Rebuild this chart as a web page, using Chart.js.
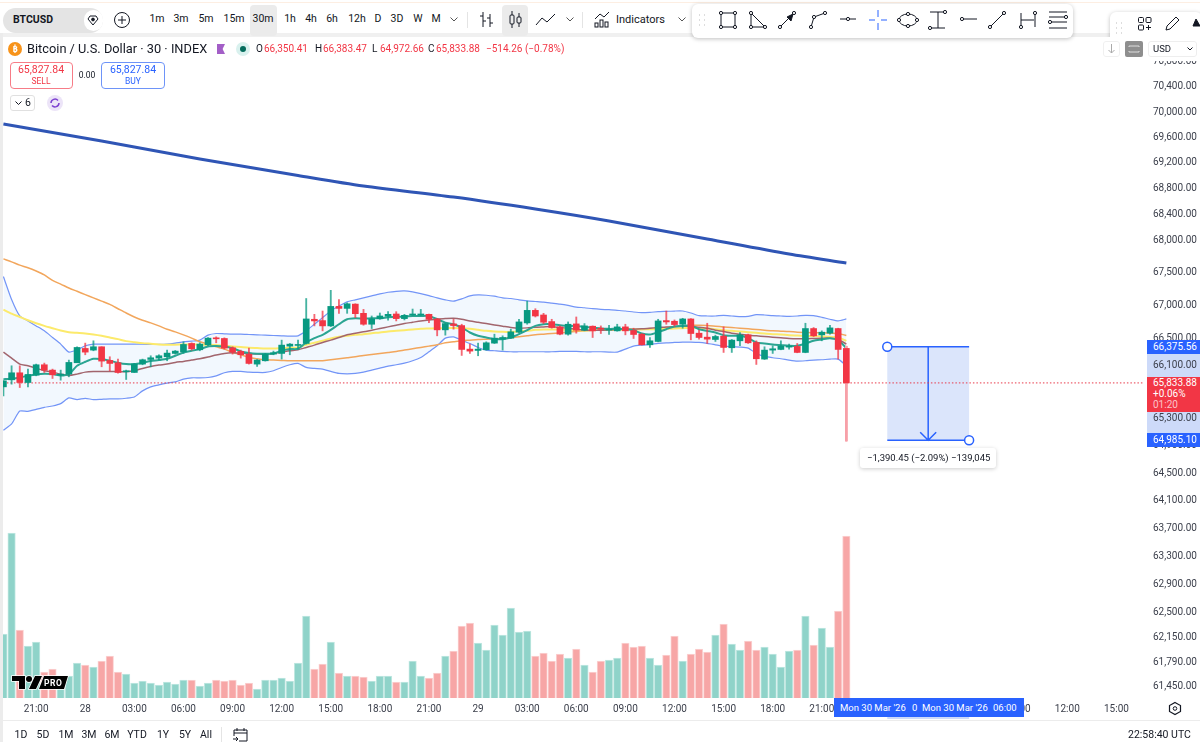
<!DOCTYPE html>
<html>
<head>
<meta charset="utf-8">
<script src="https://cdn.jsdelivr.net/npm/chart.js@4/dist/chart.umd.js"></script>
<style>
  html, body { margin: 0; padding: 0; background: #fff; }
  body { width: 1200px; height: 742px; position: relative; overflow: hidden; font-family: Roboto, 'Noto Sans', sans-serif; color: #131722; }
  canvas { position: absolute; left: 0; top: 0; }
  .ui { position: absolute; white-space: nowrap; line-height: 1; }
  .box { position: absolute; box-sizing: border-box; }
  svg { position: absolute; overflow: visible; }
</style>
</head>
<body>
<canvas id="chart" width="1200" height="742"></canvas>
<div id="ui"></div>
<script>
// ---- Data: 30 min bars, first one is 27 Mar 19:00 ----
const opens = [65775,65880,65985,65840,65950,66105,66025,65950,65965,66135,66350,66325,66375,66170,66135,66000,65990,66115,66185,66205,66225,66275,66300,66425,66330,66405,66510,66500,66360,66305,66265,66115,66165,66265,66275,66385,66395,66425,66790,66770,66690,66985,66955,67020,66880,66715,66800,66835,66870,66800,66855,66855,66865,66795,66630,66720,66695,66340,66320,66330,66430,66490,66505,66595,66735,66925,66855,66755,66675,66565,66720,66625,66685,66650,66625,66615,66675,66620,66565,66405,66455,66770,66760,66715,66795,66580,66520,66485,66535,66360,66465,66555,66440,66190,66325,66335,66370,66380,66290,66650,66555,66580,66650,66350.41];
const highs = [65865,66090,66090,66040,66115,66130,66040,66025,66175,66375,66430,66465,66375,66225,66190,66025,66125,66190,66240,66255,66325,66320,66450,66435,66435,66515,66525,66510,66375,66325,66355,66185,66275,66310,66475,66425,66475,67105,66865,66915,67230,67090,67040,67025,66940,66840,66885,66905,66905,66865,66945,66940,66870,66805,66735,66790,66715,66415,66430,66450,66565,66540,66640,66790,67065,66950,66880,66790,66690,66750,66825,66725,66690,66690,66700,66715,66715,66655,66575,66515,66790,66915,66780,66805,66800,66625,66730,66550,66675,66485,66590,66565,66465,66375,66390,66465,66415,66425,66730,66665,66615,66700,66655,66383.47];
const lows = [65640,65815,65765,65775,65940,65990,65900,65875,65925,66135,66255,66315,66075,66015,65980,65885,65990,66105,66075,66175,66165,66265,66275,66325,66315,66390,66435,66340,66265,66205,66115,66080,66160,66255,66190,66255,66340,66415,66690,66615,66680,66880,66880,66815,66700,66650,66790,66775,66765,66780,66850,66850,66740,66540,66550,66640,66245,66275,66240,66325,66425,66325,66500,66585,66715,66825,66725,66655,66555,66550,66580,66615,66515,66575,66560,66610,66555,66500,66400,66365,66450,66715,66685,66655,66480,66490,66425,66455,66290,66290,66390,66425,66110,66185,66275,66330,66340,66285,66285,66530,66465,66565,66190,64972.66];
const closes = [65865,65985,65840,65960,66105,66025,65955,65965,66140,66365,66295,66375,66160,66125,65990,66015,66115,66180,66210,66240,66280,66310,66410,66345,66415,66505,66495,66355,66295,66255,66125,66175,66265,66285,66400,66415,66405,66795,66765,66690,66985,66955,67025,66875,66715,66795,66840,66865,66800,66850,66865,66865,66790,66630,66725,66695,66335,66310,66340,66435,66505,66515,66600,66750,66925,66840,66745,66665,66565,66715,66625,66690,66615,66640,66635,66675,66615,66560,66405,66465,66765,66750,66710,66795,66575,66515,66490,66530,66365,66475,66555,66435,66195,66325,66345,66385,66385,66290,66650,66540,66595,66660,66335,65833.88];
const volumes = [64,165,68,52,56,26,29,14,22,35,33,31,37,42,26,24,15,17,15,13,16,14,18,18,12,15,18,17,18,13,15,9,18,18,20,17,35,82,29,34,56,25,22,22,21,17,22,22,16,16,37,22,20,25,42,47,72,75,55,48,73,63,90,66,67,42,45,37,44,40,49,33,26,37,38,40,55,51,52,40,33,43,62,37,44,49,46,63,74,54,48,57,48,51,44,31,47,48,82,53,70,51,87,162];

const bbUpper = [67440,67090,66840,66765,66690,66615,66515,66415,66295,66330,66390,66415,66415,66415,66415,66415,66415,66415,66410,66410,66415,66430,66450,66460,66475,66550,66575,66570,66565,66565,66560,66555,66550,66545,66540,66535,66540,66615,66715,66815,66915,66990,67055,67085,67115,67145,67175,67200,67215,67220,67205,67180,67150,67115,67085,67065,67100,67145,67160,67155,67140,67115,67105,67085,67070,67060,67050,67035,67020,67000,66975,66965,66950,66940,66935,66925,66915,66900,66890,66895,66905,66910,66915,66915,66885,66845,66840,66840,66850,66840,66830,66835,66860,66855,66845,66840,66835,66840,66850,66845,66820,66790,66765,66795];
const bbLower = [65130,65225,65415,65410,65440,65470,65490,65525,65610,65585,65605,65585,65590,65595,65595,65605,65625,65715,65775,65805,65830,65850,65890,65910,65910,65915,65940,65985,66005,66005,65995,65990,65990,66015,66065,66105,66125,66065,66050,66040,66005,65975,65970,65975,65995,66025,66055,66085,66105,66130,66165,66215,66300,66390,66505,66525,66475,66425,66365,66325,66315,66305,66300,66300,66300,66300,66300,66300,66305,66305,66305,66300,66300,66300,66295,66295,66340,66385,66400,66410,66425,66435,66440,66445,66445,66440,66425,66405,66385,66375,66370,66355,66275,66230,66210,66195,66175,66160,66165,66175,66180,66190,66190,66090];
const fastMa = [65890,65895,65915,65940,65960,65970,65965,65945,65965,66090,66150,66195,66190,66165,66135,66115,66115,66135,66160,66175,66195,66240,66290,66315,66340,66380,66385,66380,66355,66305,66280,66270,66270,66275,66315,66340,66345,66440,66505,66555,66630,66715,66790,66805,66800,66805,66805,66820,66830,66830,66840,66840,66840,66790,66740,66715,66665,66590,66540,66515,66490,66490,66515,66565,66625,66690,66715,66715,66700,66690,66690,66675,66665,66650,66645,66645,66640,66625,66575,66560,66595,66640,66680,66690,66695,66640,66615,66590,66550,66540,66540,66505,66440,66425,66410,66400,66390,66390,66425,66465,66485,66505,66475,66355];
const midMa = [66295,66205,66115,66090,66055,66015,65995,65965,65945,65965,65995,66005,66005,66005,66000,66000,66015,66050,66080,66100,66115,66140,66155,66175,66195,66220,66250,66275,66285,66280,66275,66265,66265,66275,66295,66315,66330,66365,66400,66440,66475,66515,66555,66580,66600,66625,66650,66675,66700,66725,66745,66765,66780,66790,66800,66805,66790,66765,66745,66725,66705,66685,66665,66655,66660,66670,66675,66680,66665,66655,66640,66625,66625,66625,66630,66635,66640,66640,66645,66655,66665,66675,66680,66685,66685,66670,66655,66625,66605,66580,66565,66550,66540,66530,66520,66510,66500,66495,66495,66500,66505,66505,66485,66415];
const slowMa = [67710,67665,67615,67575,67525,67465,67380,67325,67265,67215,67165,67115,67065,67015,66950,66885,66825,66775,66735,66690,66640,66600,66555,66505,66450,66415,66375,66340,66290,66255,66215,66195,66180,66175,66170,66165,66165,66165,66165,66165,66180,66195,66210,66225,66245,66260,66275,66290,66305,66325,66345,66365,66385,66405,66435,66450,66465,66475,66485,66490,66495,66500,66510,66525,66540,66555,66565,66575,66585,66595,66605,66615,66620,66625,66630,66635,66640,66640,66645,66650,66655,66665,66675,66690,66700,66700,66695,66685,66675,66665,66655,66645,66635,66625,66615,66610,66605,66595,66590,66585,66585,66580,66575,66545];
const yellowMa = [66935,66875,66825,66775,66730,66690,66655,66620,66595,66585,66575,66560,66540,66515,66490,66460,66445,66430,66420,66410,66405,66405,66410,66410,66405,66405,66400,66390,66380,66370,66360,66355,66350,66350,66355,66360,66365,66405,66435,66465,66500,66525,66540,66555,66565,66580,66590,66605,66615,66625,66635,66645,66650,66655,66655,66660,66655,66645,66630,66615,66605,66600,66600,66605,66615,66630,66635,66635,66635,66630,66625,66620,66630,66630,66630,66630,66635,66635,66635,66640,66640,66645,66650,66655,66660,66655,66650,66640,66625,66615,66605,66595,66585,66575,66565,66560,66550,66545,66540,66535,66530,66525,66515,66465];
// long average, read at a few bars only
const longMaBars = [0,12,24,36,44,55,65,74,86,96,103];
const longMa = [69812,69544,69261,69002,68838,68666,68480,68294,68016,67785,67647];

const priceTicks = [70800,70400,70000,69600,69200,68800,68400,68000,67500,67000,66500,66100,65700,65300,64900,64500,64100,63700,63300,62900,62500,62150,61790,61450];
const timeTickBars = [4,10,16,22,28,34,40,46,52,58,64,70,76,82,88,94,100,106,112,118,124,130,136];
const timeTickLabels = ['21:00','28','03:00','06:00','09:00','12:00','15:00','18:00','21:00','29','03:00','06:00','09:00','12:00','15:00','18:00','21:00','30','03:00','06:00','09:00','12:00','15:00'];

const lastBar = 103;
const lastClose = 65833.88;
const measureTop = 66375.56;
const measureBottom = 64985.10;
const measureBars = [108, 118];

const GREEN = '#089981', RED = '#f23645', BLUE = '#2962ff';
const FONT = "Roboto, 'Noto Sans', sans-serif";

// ---- Helpers ----
const xy = (vals) => vals.map((y, x) => ({ x, y }));
const isUp = (i) => closes[i] >= opens[i];
const priceText = (v) => Number(v).toLocaleString('en-US', { minimumFractionDigits: 2, maximumFractionDigits: 2 });
const maLine = (data, color, width, order) => ({ type: 'line', data: xy(data), borderColor: color, borderWidth: width, pointRadius: 0, tension: 0.25, fill: false, order });

// ---- Plugin: the measure tool and the range marked on the price axis ----
const measurePlugin = {
  id: 'measure',
  beforeDatasetsDraw(chart) {
    const { ctx, scales: { x, y } } = chart;
    const x0 = x.getPixelForValue(measureBars[0]), x1 = x.getPixelForValue(measureBars[1]);
    const y0 = y.getPixelForValue(measureTop), y1 = y.getPixelForValue(measureBottom);
    ctx.save();
    ctx.fillStyle = '#dbe5fb';
    ctx.fillRect(x0, y0, x1 - x0, y1 - y0);
    ctx.strokeStyle = BLUE; ctx.lineWidth = 1.5;
    const xm = (x0 + x1) / 2;
    ctx.beginPath();
    ctx.moveTo(x0, y0); ctx.lineTo(x1, y0);
    ctx.moveTo(x0, y1); ctx.lineTo(x1, y1);
    ctx.moveTo(xm, y0); ctx.lineTo(xm, y1);
    ctx.moveTo(xm - 8, y1 - 8); ctx.lineTo(xm, y1); ctx.lineTo(xm + 8, y1 - 8);
    ctx.stroke();
    ctx.fillStyle = '#fff';
    for (const [cx, cy] of [[x0, y0], [x1, y1]]) {
      ctx.beginPath(); ctx.arc(cx, cy, 4.5, 0, Math.PI * 2); ctx.fill(); ctx.stroke();
    }
    ctx.restore();
  },
  beforeDraw(chart) {
    const { ctx, scales: { x, y }, chartArea } = chart;
    const y0 = y.getPixelForValue(measureTop), y1 = y.getPixelForValue(measureBottom);
    ctx.save();
    ctx.fillStyle = '#cddaf9';
    ctx.fillRect(chartArea.right + 3, y0, 56, y1 - y0);
    ctx.fillRect(x.getPixelForValue(measureBars[0]), chartArea.bottom + 19, x.getPixelForValue(measureBars[1]) - x.getPixelForValue(measureBars[0]), 2);
    ctx.restore();
  },
};

// ---- Chart ----
new Chart(document.getElementById('chart'), {
  type: 'bar',
  plugins: [measurePlugin],
  data: {
    datasets: [
      { data: xy(volumes), yAxisID: 'yVol', grouped: false, barThickness: 7.5, borderWidth: 1, order: 20,
        backgroundColor: volumes.map((v, i) => isUp(i) ? '#8fd3c9' : '#f7a6a6'),
        borderColor: volumes.map((v, i) => isUp(i) ? '#c2e8e2' : '#fbd3d3') },
      { type: 'line', data: xy(bbUpper), borderColor: '#7395f7', borderWidth: 1.2, pointRadius: 0, tension: 0.2, fill: '+1', backgroundColor: '#f2f8fe', order: 15 },
      { type: 'line', data: xy(bbLower), borderColor: '#7395f7', borderWidth: 1.2, pointRadius: 0, tension: 0.2, fill: false, order: 14 },
      { type: 'line', data: [{ x: 0, y: lastClose }, { x: 140, y: lastClose }], borderColor: '#e8394a', borderWidth: 1, borderDash: [1.5, 2], pointRadius: 0, fill: false, order: 13 },
      maLine(slowMa, '#f2a65c', 1.5, 12),
      maLine(yellowMa, '#fcea6b', 2, 11),
      maLine(midMa, '#a2656d', 1.5, 10),
      maLine(fastMa, '#2ba592', 2, 9),
      { type: 'line', data: longMaBars.map((x, i) => ({ x, y: longMa[i] })), borderColor: '#2f55b5', borderWidth: 3, pointRadius: 0, tension: 0.3, fill: false, order: 8 },
      { data: lows.map((l, i) => ({ x: i, y: [l, highs[i]] })), grouped: false, barThickness: 1.2, order: 3,
        backgroundColor: lows.map((l, i) => isUp(i) ? 'rgba(8,153,129,.75)' : 'rgba(242,54,69,.75)') },
      // the last wick is drawn wider in the picture
      { data: [{ x: lastBar, y: [lows[lastBar], highs[lastBar]] }], grouped: false, barThickness: 2, order: 2, backgroundColor: '#f7a0a8' },
      { data: opens.map((o, i) => ({ x: i, y: [o, closes[i]] })), grouped: false, barThickness: 6, minBarLength: 1, order: 1,
        backgroundColor: opens.map((o, i) => isUp(i) ? GREEN : RED) },
    ],
  },
  options: {
    responsive: false,
    animation: false,
    events: [],
    layout: { padding: { left: 3, top: 37, right: 0, bottom: 0 } },
    plugins: { legend: { display: false }, tooltip: { enabled: false } },
    scales: {
      x: {
        type: 'linear', offset: false, min: -0.05, max: 139.37,
        grid: { display: false, drawTicks: false }, border: { display: false },
        afterBuildTicks: (a) => { a.ticks = timeTickBars.map((value) => ({ value })); },
        afterFit: (a) => { a.height = 44; },
        ticks: {
          autoSkip: false, maxRotation: 0, padding: 5, color: '#3a3e4a', font: { family: FONT, size: 10 },
          callback: (v) => timeTickLabels[timeTickBars.indexOf(v)],
        },
      },
      y: {
        type: 'logarithmic', position: 'right', bounds: 'data', min: 61297, max: 71202,
        grid: { display: false, drawTicks: false }, border: { display: false },
        afterBuildTicks: (a) => { a.ticks = priceTicks.map((value) => ({ value })); },
        afterFit: (a) => { a.width = 56; },
        ticks: {
          autoSkip: false, padding: 9, color: '#3a3e4a', font: { family: FONT, size: 10 },
          callback: (v) => priceText(v),
        },
      },
      yVol: { type: 'linear', display: false, min: 0, max: 661 },
    },
  },
});

// ---- Page furniture around the chart ----
const ui = document.getElementById('ui');
function box(x, y, w, h, css = '', html = '') {
  const d = document.createElement('div');
  d.className = 'box';
  d.style.cssText = `left:${x}px;top:${y}px;width:${w}px;height:${h}px;${css}`;
  d.innerHTML = html;
  ui.appendChild(d);
  return d;
}
function text(x, y, str, size = 11, color = '#131722', css = '') {
  const d = document.createElement('div');
  d.className = 'ui';
  d.textContent = str;
  d.style.cssText = `left:${x}px;top:${y}px;font-size:${size}px;color:${color};transform:translateY(-50%);${css}`;
  ui.appendChild(d);
  return d;
}
function icon(x, y, w, h, body, stroke = '#131722') {
  const s = `<svg width="${w}" height="${h}" viewBox="0 0 ${w} ${h}" fill="none" stroke="${stroke}" stroke-width="1">${body}</svg>`;
  box(x, y, w, h, '', s);
}

// frame
box(0, 0, 1200, 33, 'background:#fff;');
box(0, 2, 1200, 1, 'background:#fdeee2;');
box(0, 33, 1200, 4, 'background:#f0f0f0;');
box(0, 33, 3, 709, 'background:#ececec;');
box(3, 720, 1197, 1, 'background:#ececec;');

// top bar
box(3, 8, 100, 25, 'background:#e4e4e4;border-radius:13px;');
text(13, 20, 'BTCUSD', 10.5, '#131722', 'font-weight:700;');
box(84, 10, 19, 21, 'background:#fff;border-radius:10px;');
icon(87, 15, 12, 11, '<path d="M1 4 3 1h6l2 3-5 6z"/><circle cx="6" cy="4.5" r="1.4" fill="#131722"/>');
icon(114, 12, 16, 16, '<circle cx="8" cy="8" r="7.5"/><path d="M8 4v8M4 8h8"/>');
box(250, 5, 27, 31, 'background:#ebebeb;border-radius:4px;');
box(502, 5, 26, 31, 'background:#ebebeb;border-radius:4px;');
const intervalNames = ['1m','3m','5m','15m','30m','1h','4h','6h','12h','D','3D','W','M'];
const intervalX = [157,181,206,234,263,290,311,332,357,378,397,418,436];
intervalNames.forEach((t, i) => text(intervalX[i], 19, t, 10.5, '#131722', 'transform:translate(-50%,-50%);'));
for (const cx of [454, 570, 682]) icon(cx - 4, 17, 8, 5, '<path d="M0.5 .5 4 4 7.5 .5"/>', '#555');
box(467, 12, 1, 16, 'background:#e4e4e4;');
box(582, 12, 1, 16, 'background:#e4e4e4;');
icon(479, 11, 15, 17, '<path d="M4 1v15M4 5H1M4 10h3M11 3v13M11 7H8M11 12h3"/>');
icon(509, 10, 13, 19, '<rect x="1" y="5" width="4" height="9" rx="1"/><path d="M3 1v4M3 14v4"/><rect x="8" y="7" width="4" height="6" rx="1"/><path d="M10 3v4M10 13v4"/>');
icon(535, 12, 21, 14, '<path d="M1 13 7 6 12 10 20 2"/>');
icon(594, 11, 17, 17, '<path d="M1 8 6 3 10 6 15 1"/><rect x="1" y="12" width="3" height="4"/><rect x="6" y="9" width="3" height="7"/><rect x="11" y="11" width="3" height="5"/>');
text(616, 19, 'Indicators', 11);

// floating drawing toolbar
box(692, 4, 381, 34, 'background:#fff;border-radius:6px;box-shadow:0 1px 4px rgba(0,0,0,.25);');
box(1110, 12, 92, 36, 'background:#fff;border-radius:6px;box-shadow:0 1px 4px rgba(0,0,0,.25);');
icon(698, 14, 8, 14, '<path d="M1 1h1M6 1h1M1 6h1M6 6h1M1 11h1M6 11h1" stroke="#bbb"/>');
icon(1115, 22, 8, 14, '<path d="M1 1h1M6 1h1M1 6h1M6 6h1M1 11h1M6 11h1" stroke="#bbb"/>');
const dot = (x, y) => `<circle cx="${x}" cy="${y}" r="1.6" fill="#fff"/>`;
icon(719, 11, 18, 18, `<rect x="2" y="2" width="14" height="14"/>${dot(2,2)}${dot(16,2)}${dot(2,16)}${dot(16,16)}`);
icon(749, 11, 18, 18, `<path d="M2 2v14h14z"/>${dot(2,2)}${dot(2,16)}${dot(16,16)}`);
icon(778, 11, 18, 18, `<path d="M2 16 16 2"/><path d="M9 6l4 4 2-7z" fill="#131722"/>${dot(2,16)}${dot(16,2)}`);
icon(809, 11, 18, 18, `<path d="M2 16 5 6 16 2"/>${dot(2,16)}${dot(5,6)}${dot(16,2)}`);
icon(839, 14, 18, 10, `<path d="M1 5h16"/>${dot(9,5)}`);
icon(869, 10, 18, 20, '<path d="M9 0v7M9 13v7M0 10h6M12 10h6"/>', BLUE);
icon(898, 11, 20, 18, `<ellipse cx="10" cy="9" rx="9" ry="6"/>${dot(1,9)}${dot(19,9)}${dot(10,3)}${dot(10,15)}`);
icon(929, 10, 18, 20, `<path d="M1 2h15M9 2v16M1 18h15"/>${dot(16,2)}${dot(1,18)}`);
icon(960, 14, 17, 10, `<path d="M2 5h15"/>${dot(2,5)}`);
icon(988, 11, 18, 18, `<path d="M2 16 16 2"/>${dot(2,16)}${dot(16,2)}`);
icon(1019, 11, 18, 18, `<path d="M2 2v14M16 2v14M2 9h13"/>${dot(2,16)}${dot(16,2)}`);
icon(1049, 10, 19, 20, `<path d="M0 2h18M0 7h18M0 12h18M0 18h18"/>${dot(17,7)}${dot(1,12)}`);
icon(1138, 17, 14, 14, '<rect x=".5" y=".5" width="5" height="5" rx="1"/><rect x="8" y=".5" width="5" height="5" rx="1"/><rect x=".5" y="8" width="5" height="5" rx="1"/><path d="M10.5 8v5M8 10.5h5"/>');
icon(1165, 15, 16, 16, '<path d="M1 15l1-4L11 2l3 3-9 9z"/>');
box(1165, 37, 18, 2, 'background:#2962ff;border-radius:1px;');
icon(1193, 18, 7, 12, '<path d="M3 1 7 8H0z" fill="#131722"/>');

// legend
box(8, 42, 14, 14, 'background:#f7931a;border-radius:7px;color:#fff;font-size:9px;font-weight:700;text-align:center;line-height:14px;', '₿');
text(27, 49, 'Bitcoin / U.S. Dollar · 30 · INDEX', 12.8, '#131722');
box(217, 44, 8, 10, 'background:#a35ec7;clip-path:polygon(0 0,100% 0,70% 50%,100% 100%,0 100%);');
box(236, 42, 14, 14, 'background:#d9f1ee;border-radius:7px;');
box(240, 46, 6, 6, 'background:#046c5c;border-radius:3px;');
const ohlcNames = ['O','H','L','C'];
const ohlcText = ['66,350.41','66,383.47','64,972.66','65,833.88'];
const ohlcX = [256,315,372,428];
ohlcNames.forEach((n, i) => {
  text(ohlcX[i], 49, n, 10, '#131722');
  text(ohlcX[i] + 8, 49, ohlcText[i], 10, RED);
});
text(486, 49, '−514.26 (−0.78%)', 10, RED);

// sell / buy boxes
box(10, 62, 63, 27, 'background:#fff;border:1px solid #f77c87;border-radius:4px;');
box(101, 62, 64, 27, 'background:#fff;border:1px solid #6e94f8;border-radius:4px;');
text(41, 70, '65,827.84', 10.5, RED, 'transform:translate(-50%,-50%);');
text(41, 81, 'SELL', 8.5, RED, 'transform:translate(-50%,-50%);');
text(133, 70, '65,827.84', 10.5, BLUE, 'transform:translate(-50%,-50%);');
text(133, 81, 'BUY', 8.5, BLUE, 'transform:translate(-50%,-50%);');
text(87, 75, '0.00', 8.5, '#131722', 'transform:translate(-50%,-50%);');
box(10, 95, 25, 16, 'background:#fff;border:1px solid #e0e0e0;border-radius:3px;');
icon(15, 101, 7, 5, '<path d="M.5 .5 3.5 3.5 6.5 .5"/>');
text(25, 103, '6', 10.5);
box(47, 95, 16, 16, 'background:#ece4f8;border-radius:8px;');
icon(50, 98, 10, 10, '<path d="M1 5a4 4 0 0 1 7-2.5M9 5a4 4 0 0 1-7 2.5" stroke="#7c3fd0" stroke-width="1.5"/>');

// top of the price axis
box(1100, 37, 100, 24, 'background:#fff;');
box(1103, 41, 17, 16, 'border:1px solid #f0f0f0;border-radius:3px;');
icon(1108, 44, 7, 10, '<path d="M3.5 0v9M.5 6l3 3 3-3" stroke="#aaa"/>');
box(1125, 41, 18, 16, 'background:#8e8e8e;border-radius:2px;');
icon(1129, 45, 10, 8, '<path d="M0 2V1h10v1M0 6v1h10V6" stroke="#ddd"/>');
box(1148, 41, 49, 16, 'border:1px solid #eee;border-radius:3px;');
text(1153, 49, 'USD', 9.5);
icon(1187, 47, 6, 4, '<path d="M.5 .5 3 3 5.5 .5"/>');

// price tags
box(1147, 340, 53, 14, 'background:#2962ff;');
text(1153, 347, '66,375.56', 10, '#fff');
box(1147, 377, 53, 35, 'background:#f23645;');
text(1153, 383, '65,833.88', 10, '#fff');
text(1153, 394, '+0.06%', 10, '#fff');
text(1153, 405, '01:20', 10, '#fbc4c9');
box(1147, 433, 53, 14, 'background:#2962ff;');
text(1153, 440, '64,985.10', 10, '#fff');

// measure label
box(860, 448, 136, 20, 'background:#fff;border-radius:3px;box-shadow:0 1px 4px rgba(0,0,0,.2);');
text(867, 458, '−1,390.45 (−2.09%) −139,045', 9.5, '#131722');

// date labels on the time axis
box(834, 698, 190, 19, 'background:#2962ff;');
text(840, 708, "Mon 30 Mar '26", 9.5, '#fff');
text(912, 708, '0', 9.5, '#fff');
text(922, 708, "Mon 30 Mar '26", 9.5, '#fff');
text(993, 708, '06:00', 9.5, '#fff');
icon(1169, 702, 12, 13, '<path d="M6 .5 11.5 3.5v6L6 12.5.5 9.5v-6z" stroke-width="1.2"/><circle cx="6" cy="6.5" r="1.8"/>');

// watermark
const logoSvg = `<svg width="56" height="15" viewBox="0 0 56 15"><g fill="#000" stroke="#fff" stroke-width="1.5" paint-order="stroke"><path d="M0 1h13v13H7V6H0z"/><circle cx="17" cy="4" r="3"/><path d="M23 1h7l-6 13h-7z"/><path d="M32 1h24l-4 13H27z"/></g></svg>`;
box(12, 675, 56, 15, '', logoSvg);
text(44, 683, 'PRO', 8.5, '#fff', 'font-weight:700;letter-spacing:.5px;');

// bottom bar
const rangeNames = ['1D','5D','1M','3M','6M','YTD','1Y','5Y','All'];
const rangeX = [21,43,66,89,112,137,163,185,206];
rangeNames.forEach((t, i) => text(rangeX[i], 735, t, 10.5, '#131722', 'transform:translate(-50%,-50%);'));
box(221, 727, 1, 15, 'background:#e4e4e4;');
icon(233, 728, 15, 14, '<path d="M1 8V2h13v11H6M1 5h13M4 0v3M11 0v3M0 11h5M3 9l2 2-2 2"/>');
text(1128, 735, '22:58:40 UTC', 10.5);
</script>
</body>
</html>
